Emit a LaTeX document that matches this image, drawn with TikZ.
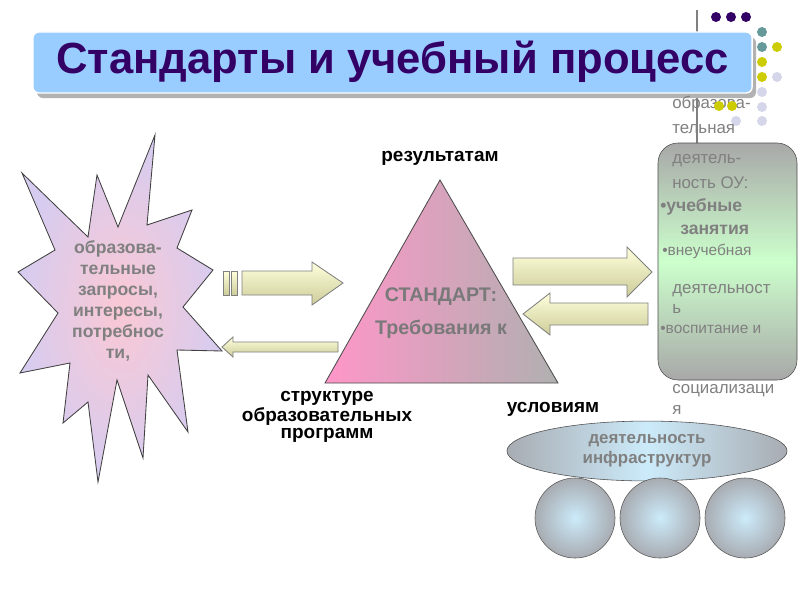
\documentclass[tikz,border=0pt]{standalone}
\usepackage{fontspec}
\setmainfont{Liberation Sans}
\usetikzlibrary{shapes,positioning}
\definecolor{titleblue}{RGB}{153,204,255}
\definecolor{titleink}{RGB}{51,0,102}
\definecolor{textgray}{RGB}{128,128,128}
\definecolor{dotteal}{RGB}{102,153,153}
\definecolor{dotyellow}{RGB}{204,204,0}
\definecolor{dotlilac}{RGB}{214,214,235}
\definecolor{arrowlight}{RGB}{255,255,221}
\definecolor{arrowdark}{RGB}{204,204,153}
\definecolor{burstpink}{RGB}{250,200,212}
\definecolor{burstlilac}{RGB}{214,204,240}
\definecolor{standpink}{RGB}{255,150,200}
\definecolor{standgray}{RGB}{176,176,176}
\definecolor{infrablue}{RGB}{204,235,250}
\definecolor{infragray}{RGB}{168,172,178}
\definecolor{boxgreen}{RGB}{204,255,204}
\definecolor{boxgray}{RGB}{168,168,168}

\begin{document}
\begin{tikzpicture}[x=0.025cm, y=-0.025cm,
    blockarrow/.style={top color=arrowlight, bottom color=arrowdark, draw=gray, line width=0.6pt},
    graylabel/.style={text=textgray, font=\bfseries\fontsize{12.5}{15}\selectfont, align=center},
    blacklabel/.style={font=\bfseries\fontsize{13.5}{12.5}\selectfont, align=center},
    colline/.style={text=textgray, anchor=base west, inner sep=0pt, font=\fontsize{12}{14}\selectfont},
    colbold/.style={text=textgray, anchor=base west, inner sep=0pt, font=\bfseries\fontsize{12.5}{14}\selectfont},
    ball/.style={circle, draw=gray!70!black, minimum size=2cm, inner color=infrablue, outer color=infragray}]
    \useasboundingbox (0,0) rectangle (800,600);
    \fill[white] (0,0) rectangle (800,600);

    % decoration top right
    \draw[gray, line width=0.8pt] (697,10) -- (697,143);
    \foreach \x/\y/\c in {716/17/titleink, 731/17/titleink, 746/17/titleink,
        762/32/dotteal, 762/47/dotteal, 777/47/dotyellow, 762/62/dotyellow,
        762/77/dotyellow, 777/77/dotlilac, 762/92/dotlilac, 762/107/dotlilac,
        736/121/dotlilac, 762/121/dotlilac}
        \fill[\c] (\x,\y) circle (5);

    % title
    \fill[gray!60, rounded corners=0.15cm] (37,37) rectangle (756,98);
    \node[draw=white, line width=1pt, fill=titleblue, rounded corners=0.15cm, minimum width=17.975cm, minimum height=1.525cm] (title) at (392.5,62.5) {};
    \node[text=titleink, font=\bfseries\fontsize{31}{31}\selectfont] (titletext) at (392.5,62) {Стандарты и учебный процесс};

    % activity box of the school
    \shade[top color=boxgray, bottom color=boxgray, middle color=boxgreen, draw=gray!60!black, rounded corners=0.5cm] (658,143) rectangle (797,380);
    \foreach \y/\t [count=\i] in {108/образова-, 133/тельная, 163/деятель-, 188/ность ОУ:, 293/деятельност, 313/ь, 393/социализаци, 414/я}
        \node[colline] (col\i) at (672,\y) {\t};
    \node[colbold] (lesson) at (660,211) {\textbullet учебные};
    \node[colbold] (lesson2) at (680,234) {занятия};
    \node[colline, font=\fontsize{11}{13}\selectfont] (extra) at (662,255) {\textbullet внеучебная};
    \node[colline, font=\fontsize{11}{13}\selectfont] (upbring) at (660,333) {\textbullet воспитание и};
    % dots lying over the text
    \foreach \x/\y in {719/106, 732/106}
        \fill[dotyellow] (\x,\y) circle (5);

    % starburst of needs
    \shade[inner color=burstpink, outer color=burstlilac, draw=gray!50!black, line width=0.6pt]
        (155,135) -- (147,225) -- (192,210) -- (177,248) -- (213,270) -- (183,307)
        -- (222,351) -- (177,350) -- (188,432) -- (148,375) -- (143,458) -- (117,380)
        -- (98,482) -- (88,402) -- (63,423) -- (70,363) -- (20,373) -- (58,313)
        -- (18,272) -- (55,250) -- (22,173) -- (88,237) -- (97,175) -- (118,227) -- cycle;
    \node[graylabel] (needs) at (118,301) {образова-\\тельные\\запросы,\\интересы,\\потребнос\\ти,};

    % standard triangle
    \shade[left color=standpink, right color=standgray, draw=gray!60!black, line width=0.6pt]
        (440,180) -- (558,383) -- (325,383) -- cycle;
    \node[graylabel, font=\bfseries\fontsize{14}{23}\selectfont, text=gray!95!black] (standard) at (441,313) {СТАНДАРТ:\\Требования к};
    \node[blacklabel] (results) at (440,158) {результатам};
    \node[blacklabel] (structure) at (327,417) {структуре\\образовательных\\программ};
    \node[blacklabel] (conditions) at (553,409) {условиям};

    % block arrows
    \shade[blockarrow] (223,271) rectangle (229,295);
    \shade[blockarrow] (231,271) rectangle (237,295);
    \shade[blockarrow] (242,271) -- (312,271) -- (312,262) -- (343,283) -- (312,305) -- (312,295) -- (242,295) -- cycle;
    \shade[blockarrow] (338,342) -- (233,342) -- (233,337) -- (222,347) -- (233,357) -- (233,352) -- (338,352) -- cycle;
    \shade[blockarrow] (513,258) -- (627,258) -- (627,247) -- (652,272) -- (627,297) -- (627,285) -- (513,285) -- cycle;
    \shade[blockarrow] (648,303) -- (550,303) -- (550,293) -- (523,314) -- (550,335) -- (550,325) -- (648,325) -- cycle;

    % infrastructure
    \node[ellipse, draw=gray!60!black, minimum width=7cm, minimum height=1.2cm, left color=infragray, right color=infragray, middle color=infrablue,
        graylabel, font=\bfseries\fontsize{12}{14.5}\selectfont] (infra) at (647,451) {деятельность\\инфраструктур};
    \node[ball] (ball1) at (575,518) {};
    \node[ball] (ball2) at (660,518) {};
    \node[ball] (ball3) at (745,518) {};
\end{tikzpicture}
\end{document}
